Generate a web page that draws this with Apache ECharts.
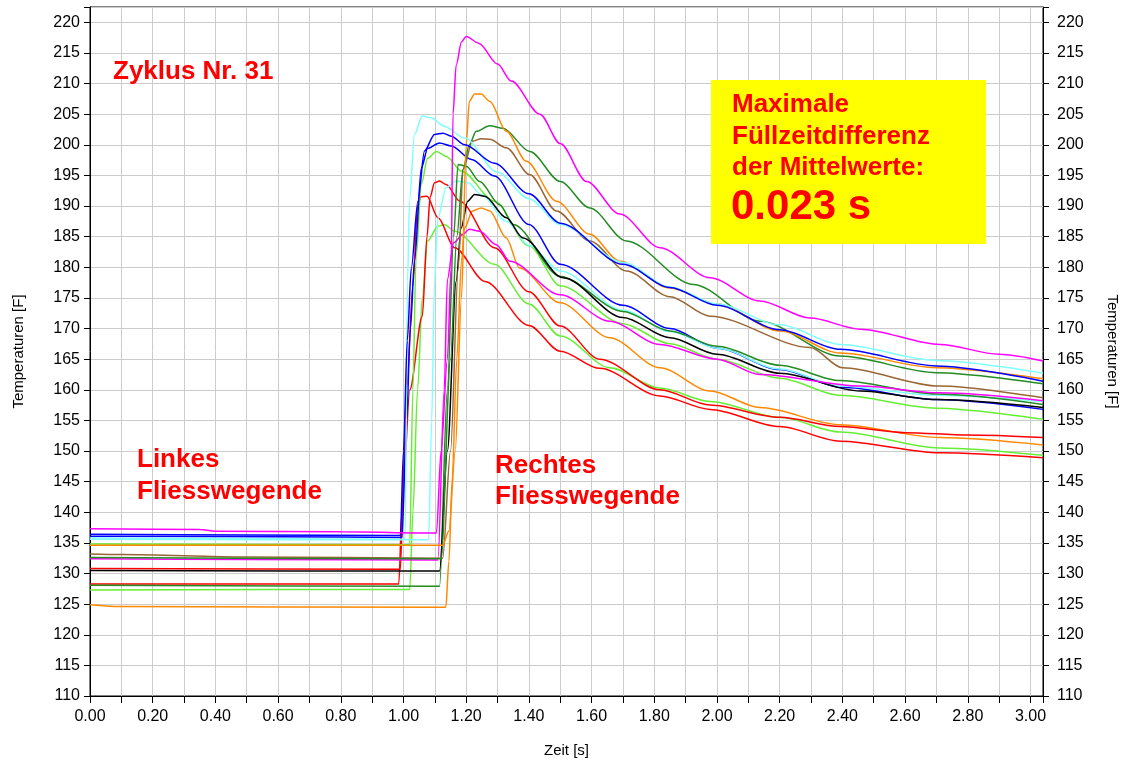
<!DOCTYPE html>
<html>
<head>
<meta charset="utf-8">
<title>Zyklus Nr. 31</title>
<script src="https://cdn.jsdelivr.net/npm/echarts@6/dist/echarts.min.js"></script>
<style>
  html, body { margin: 0; padding: 0; background: #fff; }
  #chart { width: 1132px; height: 767px; }
</style>
</head>
<body>
<div id="chart"></div>
<script>
// Messkurven [Zeit s, Temperatur F]
const magentaA = [[0,137.3],[0.35,137.2],[0.4,136.9],[0.8,136.8],[1.105,136.6],[1.12,150],[1.14,165],[1.152,180],[1.158,205],[1.168,213],[1.185,216.8],[1.2,217.7],[1.24,216.6],[1.3,213.2],[1.344,210.4],[1.435,205],[1.5,200.2],[1.584,194],[1.69,188.7],[1.818,183.2],[1.978,178.3],[2.137,174.5],[2.297,171.7],[2.457,169.9],[2.712,167.4],[2.9,165.8],[3.04,164.7]];
const cyanA = [[0,135.8],[1.005,135.6],[1.013,177.7],[1.019,190.8],[1.035,201.7],[1.06,204.7],[1.088,204.4],[1.131,203],[1.195,201.1],[1.3,195.5],[1.4,191.2],[1.5,187],[1.7,180.8],[1.85,176.8],[2.0,174],[2.2,170.6],[2.393,167.4],[2.7,164.8],[3.04,162.7]];
const blueA = [[0,136.4],[0.5,136.3],[0.99,136.2],[1.0,150],[1.012,168],[1.025,179.9],[1.046,190.8],[1.067,199],[1.099,201.7],[1.126,201.9],[1.152,201.4],[1.195,200],[1.29,197],[1.4,192],[1.5,187.2],[1.7,180.5],[1.85,176.7],[2.0,173.8],[2.2,169.8],[2.393,166.6],[2.7,163.9],[3.04,161.4]];
const blueB = [[0,136.1],[0.6,136.0],[0.995,135.9],[1.01,155],[1.022,170],[1.035,181],[1.057,196.2],[1.077,199.4],[1.115,200.3],[1.153,199.8],[1.217,197.6],[1.29,194.9],[1.4,187],[1.5,180.5],[1.7,173.8],[1.85,170],[2.0,166.8],[2.2,163.3],[2.4,160.4],[2.7,158.4],[3.04,156.8]];
const limeA = [[0,134.8],[1.02,134.7],[1.03,160],[1.04,181.5],[1.057,193.6],[1.077,197.8],[1.105,198.9],[1.137,198.1],[1.185,195.7],[1.29,190.8],[1.4,183.5],[1.5,177],[1.7,170.8],[1.85,167.5],[2.0,165],[2.2,161.9],[2.393,159.1],[2.7,157],[3.04,155.2]];
const redA = [[0,130.8],[0.99,130.7],[1.0,145],[1.02,160],[1.06,172],[1.075,185],[1.085,191.5],[1.099,193.8],[1.115,194.1],[1.136,193.5],[1.18,190.8],[1.29,183.2],[1.4,176],[1.5,170.4],[1.626,165],[1.818,160],[1.978,157.5],[2.2,155.5],[2.393,154],[2.6,153],[2.8,152.6],[3.04,152.2]];
const redB = [[0,128.3],[0.985,128.3],[0.995,140],[1.01,160],[1.03,177],[1.045,190],[1.055,191.5],[1.075,191.6],[1.11,188.1],[1.163,183.2],[1.26,177.7],[1.4,170.5],[1.5,166.3],[1.626,163.5],[1.818,159],[1.978,156.8],[2.2,154],[2.393,151.6],[2.71,149.7],[3.04,148.9]];
const limeB = [[0,127.3],[1.02,127.4],[1.03,140],[1.045,160],[1.06,175],[1.077,184.3],[1.11,186.7],[1.13,187],[1.163,185.9],[1.29,180.5],[1.4,174],[1.5,168.8],[1.658,163.6],[1.818,160.3],[1.978,158.1],[2.2,155.5],[2.393,153.1],[2.71,150.5],[3.04,149.3]];
const cyanB = [[0,135.6],[1.08,135.5],[1.09,155],[1.099,177.7],[1.11,188.1],[1.136,193],[1.168,194.1],[1.205,193.8],[1.25,191.8],[1.328,187.5],[1.4,183.6],[1.5,179.4],[1.7,173],[1.85,169.5],[2.0,166.8],[2.2,163.4],[2.393,160.6],[2.7,159.1],[3.04,158.1]];
const orangeA = [[0,134.6],[1.125,134.6],[1.145,137],[1.165,150],[1.185,175],[1.2,200],[1.21,207.1],[1.227,208.3],[1.248,208.3],[1.275,207.1],[1.328,202.2],[1.392,197.3],[1.488,190.8],[1.594,185.4],[1.69,181],[1.85,176.6],[2.0,174],[2.2,169.6],[2.393,166],[2.7,163.6],[3.04,161.8]];
const orangeB = [[0,124.9],[0.1,124.6],[1.135,124.5],[1.145,132],[1.155,145],[1.17,165],[1.185,181],[1.195,186.4],[1.22,189.2],[1.248,189.7],[1.275,189.2],[1.328,184.8],[1.37,179.9],[1.5,174.2],[1.658,168.5],[1.818,163.6],[1.978,159.8],[2.137,157.1],[2.393,154.3],[2.71,152.2],[3.04,151.0]];
const darkGreenA = [[0,132.6],[1.12,132.4],[1.15,165],[1.17,185],[1.19,196],[1.21,200],[1.232,202.2],[1.275,203.1],[1.317,202.7],[1.403,198.9],[1.5,194],[1.594,189.7],[1.711,184.3],[1.924,177.2],[2.137,171.2],[2.393,165.5],[2.7,162.8],[3.04,161.0]];
const darkGreenB = [[0,128.1],[1.115,127.9],[1.14,160],[1.16,185],[1.174,196.8],[1.2,196.5],[1.243,194],[1.307,190.2],[1.35,187],[1.5,178.5],[1.7,172.8],[1.85,169.6],[2.0,167.1],[2.2,164],[2.393,161.5],[2.7,159.3],[3.04,157.6]];
const brown = [[0,133.2],[0.1,133.1],[0.5,132.7],[1.125,132.5],[1.15,150],[1.175,180],[1.19,196],[1.22,200.6],[1.248,201],[1.275,200.9],[1.328,199.5],[1.403,195.1],[1.488,189.2],[1.594,184.3],[1.711,179.4],[1.85,175.2],[1.978,172],[2.297,166.9],[2.4,163.6],[2.71,160.6],[3.04,158.7]];
const black = [[0,130.5],[1.115,130.4],[1.14,150],[1.168,177.7],[1.184,186.4],[1.205,190.8],[1.227,191.9],[1.259,191.6],[1.328,188.1],[1.381,184.8],[1.509,178.3],[1.7,171.8],[1.85,168.5],[2.0,165.8],[2.2,162.7],[2.457,159.8],[2.7,158.4],[3.04,157.1]];
const magentaB = [[0,132.4],[0.5,132.3],[1.11,132.2],[1.13,160],[1.14,178],[1.16,184],[1.19,185.4],[1.21,186.2],[1.243,185.9],[1.296,183.7],[1.339,181],[1.5,175.5],[1.658,171.2],[1.818,167.4],[2.0,165],[2.137,162.5],[2.457,160.6],[2.71,159.5],[3.04,158.2]];

const xMin = 0, xMax = 3.04, xStep = 0.1;
const yMin = 110, yMax = 222.5, yStep = 5;

const curves = [
  { data: orangeB, color: '#ff8800' },
  { data: limeB, color: '#66ee33' },
  { data: redB, color: '#ff0000' },
  { data: redA, color: '#ff0000' },
  { data: limeA, color: '#66ee33' },
  { data: blueB, color: '#0000ff' },
  { data: cyanB, color: '#80ffff' },
  { data: darkGreenB, color: '#228b22' },
  { data: black, color: '#000000' },
  { data: magentaB, color: '#ff00ff' },
  { data: brown, color: '#996633' },
  { data: darkGreenA, color: '#228b22' },
  { data: orangeA, color: '#ff8800' },
  { data: cyanA, color: '#80ffff' },
  { data: blueA, color: '#0000ff' },
  { data: magentaA, color: '#ff00ff' }
];

const chart = echarts.init(document.getElementById('chart'));
const labelFont = 'Arial, "Liberation Sans", sans-serif';
const boldRed = (size) => 'bold ' + size + 'px ' + labelFont;

const yAxisBase = (pos) => ({
  type: 'value',
  position: pos,
  min: yMin,
  max: yMax,
  interval: yStep,
  name: 'Temperaturen [F]',
  nameLocation: 'middle',
  nameRotate: pos === 'left' ? 90 : -90,
  nameGap: pos === 'left' ? 64 : 62,
  nameTextStyle: { color: '#000', fontSize: 15, fontFamily: labelFont },
  axisLine: { show: true, lineStyle: { color: '#000', width: 1 } },
  axisTick: { show: true, length: 6, lineStyle: { color: '#000' } },
  axisLabel: {
    color: '#000', fontSize: 16, fontFamily: labelFont, margin: pos === 'left' ? 10 : 14,
    formatter: (v) => (Math.abs(v % 5) < 1e-6 ? String(v) : '')
  },
  splitLine: { show: pos === 'left', lineStyle: { color: '#cccccc', width: 1 } }
});

chart.setOption({
  animation: false,
  backgroundColor: '#fff',
  grid: { left: 90, right: 89, top: 7, bottom: 71, show: true, borderColor: '#000', borderWidth: 1 },
  xAxis: {
    type: 'value',
    min: xMin,
    max: xMax,
    interval: xStep,
    name: 'Zeit [s]',
    nameLocation: 'middle',
    nameGap: 47,
    nameTextStyle: { color: '#000', fontSize: 15, fontFamily: labelFont },
    axisLine: { show: true, onZero: false, lineStyle: { color: '#000', width: 1 } },
    axisTick: { show: true, length: 7, lineStyle: { color: '#000' } },
    axisLabel: {
      color: '#000', fontSize: 16, fontFamily: labelFont, margin: 13,
      formatter: (v) => (Math.abs(v * 5 - Math.round(v * 5)) < 1e-6 ? v.toFixed(2) : '')
    },
    splitLine: { show: true, lineStyle: { color: '#cccccc', width: 1 } }
  },
  yAxis: [yAxisBase('left'), yAxisBase('right')],
  series: curves.map((c) => ({
    type: 'line',
    data: c.data,
    showSymbol: false,
    smooth: 0.3,
    smoothMonotone: 'x',
    lineStyle: { color: c.color, width: 1.5 },
    itemStyle: { color: c.color },
    silent: true
  })),
  graphic: [
    { type: 'rect', z: 100, shape: { x: 711, y: 80, width: 275, height: 164 }, style: { fill: '#ffff00' } },
    { type: 'text', z: 101, style: { x: 732, y: 105, text: 'Maximale', font: boldRed(26), fill: '#ff0000', textVerticalAlign: 'middle' } },
    { type: 'text', z: 101, style: { x: 732, y: 137, text: 'Füllzeitdifferenz', font: boldRed(26), fill: '#ff0000', textVerticalAlign: 'middle' } },
    { type: 'text', z: 101, style: { x: 732, y: 168, text: 'der Mittelwerte:', font: boldRed(26), fill: '#ff0000', textVerticalAlign: 'middle' } },
    { type: 'text', z: 101, style: { x: 731, y: 207, text: '0.023 s', font: boldRed(42), fill: '#ff0000', textVerticalAlign: 'middle' } },
    { type: 'text', z: 101, style: { x: 113, y: 72, text: 'Zyklus Nr. 31', font: boldRed(26), fill: '#ff0000', textVerticalAlign: 'middle' } },
    { type: 'text', z: 101, style: { x: 137, y: 460, text: 'Linkes', font: boldRed(26), fill: '#ff0000', textVerticalAlign: 'middle' } },
    { type: 'text', z: 101, style: { x: 137, y: 492, text: 'Fliesswegende', font: boldRed(26), fill: '#ff0000', textVerticalAlign: 'middle' } },
    { type: 'text', z: 101, style: { x: 495, y: 466, text: 'Rechtes', font: boldRed(26), fill: '#ff0000', textVerticalAlign: 'middle' } },
    { type: 'text', z: 101, style: { x: 495, y: 497, text: 'Fliesswegende', font: boldRed(26), fill: '#ff0000', textVerticalAlign: 'middle' } }
  ]
});

window.addEventListener('resize', () => chart.resize());
</script>
</body>
</html>
